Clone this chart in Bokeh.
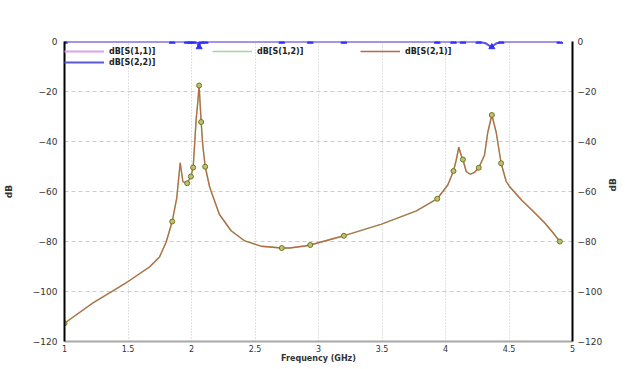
import math
from bokeh.plotting import figure
from bokeh.models import (Range1d, LinearAxis, FixedTicker, Legend, LegendItem)
from bokeh.embed import file_html
from bokeh.resources import INLINE

# ---- data ----
freq_s21 = [1.0, 1.223, 1.486, 1.669, 1.748, 1.80, 1.848, 1.884, 1.911, 1.932,
            1.95, 1.966, 1.995, 2.013, 2.037, 2.05, 2.06, 2.068, 2.076, 2.089,
            2.108, 2.142, 2.155, 2.22, 2.312, 2.417, 2.549, 2.711, 2.772, 2.89,
            2.935, 3.2, 3.494, 3.769, 3.935, 4.018, 4.063, 4.084, 4.105, 4.123,
            4.137, 4.163, 4.194, 4.228, 4.262, 4.307, 4.333, 4.365, 4.399, 4.438,
            4.478, 4.504, 4.6, 4.688, 4.78, 4.845, 4.9]
db_s21 = [-112.7, -104.6, -96.5, -90.2, -86.2, -80.3, -72.0, -62.6, -48.5, -56.0,
          -56.5, -56.7, -54.0, -50.4, -31.0, -24.0, -17.6, -25.0, -32.2, -41.6,
          -50.1, -58.0, -60.0, -69.2, -75.7, -79.7, -81.9, -82.6, -82.6, -81.8,
          -81.4, -77.7, -73.1, -67.8, -62.9, -57.4, -51.8, -47.5, -42.3, -45.5,
          -47.2, -52.0, -53.1, -52.4, -50.5, -45.5, -36.3, -29.4, -36.3, -48.7,
          -56.0, -58.0, -63.5, -67.8, -72.5, -76.4, -80.0]

freq_s22 = [1.0, 2.03, 2.045, 2.058, 2.07, 2.09, 4.27, 4.32, 4.36, 4.40, 4.44, 4.9]
db_s22 = [0.0, 0.0, -0.5, -2.2, -0.5, 0.0, 0.0, -0.8, -2.2, -0.8, 0.0, 0.0]

marker_freq = [1.0, 1.848, 1.966, 1.995, 2.013, 2.06, 2.076, 2.108, 2.711, 2.935,
               3.2, 3.935, 4.063, 4.137, 4.262, 4.365, 4.438, 4.9]
marker_s21 = [-112.7, -72.0, -56.7, -54.0, -50.4, -17.6, -32.2, -50.1, -82.6, -81.4,
              -77.7, -62.9, -51.8, -47.2, -50.5, -29.4, -48.7, -80.0]
marker_s22 = [0, 0, 0, 0, 0, -2.2, 0, 0, 0, 0, 0, 0, 0, 0, 0, -2.2, 0, 0]

series_names = ["dB[S(1,1)]", "dB[S(1,2)]", "dB[S(2,1)]", "dB[S(2,2)]"]
x_ticks = [1, 1.5, 2, 2.5, 3, 3.5, 4, 4.5, 5]
x_tick_labels = ["1", "1.5", "2", "2.5", "3", "3.5", "4", "4.5", "5"]
y_ticks = [-120, -100, -80, -60, -40, -20, 0]

FONT = "DejaVu Sans"
FRAME_H = 300

p = figure(frame_width=508, frame_height=FRAME_H, output_backend="svg",
           toolbar_location=None, x_range=Range1d(1, 5), y_range=Range1d(-120, 0),
           min_border_left=57, min_border_right=44, min_border_top=41,
           min_border_bottom=0, x_axis_label="Frequency (GHz)", y_axis_label="dB")
p.outline_line_color = None
p.background_fill_color = "white"

# grids
p.xgrid.ticker = FixedTicker(ticks=x_ticks)
p.ygrid.ticker = FixedTicker(ticks=y_ticks)
p.xgrid.grid_line_color = "#c4c4c4"
p.xgrid.grid_line_dash = "1 2"
p.ygrid.grid_line_color = "#cccccc"
p.ygrid.grid_line_dash = "4 3"

# axes
xa = p.xaxis[0]
xa.ticker = FixedTicker(ticks=x_ticks)
xa.major_label_overrides = {t: l for t, l in zip(x_ticks, x_tick_labels)}
xa.axis_line_color = "#a8a8a8"
xa.axis_line_width = 2
xa.major_tick_out = 0
xa.major_tick_in = 0
xa.minor_tick_out = 0
xa.minor_tick_in = 0
xa.major_label_standoff = 3
xa.axis_label_standoff = -1
xa.major_label_text_font = FONT
xa.major_label_text_font_size = "8px"
xa.major_label_text_color = "#333333"
xa.axis_label_text_font = FONT
xa.axis_label_text_font_size = "8px"
xa.axis_label_text_font_style = "bold"
xa.axis_label_text_color = "#333333"

ya = p.yaxis[0]
ra = LinearAxis(axis_label="dB")
p.add_layout(ra, "right")
for ax, lstand in ((ya, 16), (ra, 8)):
    ax.ticker = FixedTicker(ticks=y_ticks)
    ax.axis_line_color = "black"
    ax.axis_line_width = 2
    ax.major_tick_out = 0
    ax.major_tick_in = 0
    ax.minor_tick_out = 0
    ax.minor_tick_in = 0
    ax.major_label_standoff = 7
    ax.axis_label_standoff = lstand
    ax.major_label_text_font = FONT
    ax.major_label_text_font_size = "9px"
    ax.major_label_text_color = "#333333"
    ax.axis_label_text_font = FONT
    ax.axis_label_text_font_size = "9px"
    ax.axis_label_text_font_style = "bold"
    ax.axis_label_text_color = "#333333"
ra.major_label_standoff = 5
ra.axis_label_orientation = math.pi / 2

# curves (S11/S12 lie under S22/S21)
r11 = p.line(freq_s22, db_s22, line_color="#e0a0e8", line_width=2)
r12 = p.line(freq_s21, db_s21, line_color="#a0d8a0", line_width=1.5)
r21 = p.line(freq_s21, db_s21, line_color="#b86a45", line_width=1.3)
r22 = p.line(freq_s22, db_s22, line_color="#5a5ad8", line_width=2)

p.scatter(marker_freq, marker_s21, marker="circle", size=5,
          fill_color="#c0c070", line_color="#6b7a20", line_width=1)
p.scatter(marker_freq, marker_s22, marker="triangle", size=6,
          fill_color="#3030ff", line_color="#3030ff", line_width=1)

legend = Legend(items=[LegendItem(label=n, renderers=[r]) for n, r in
                       zip(series_names, [r11, r12, r21, r22])],
                location=(0, FRAME_H - 26), orientation="horizontal", ncols=3,
                padding=0, margin=0, spacing=1, border_line_color=None,
                background_fill_alpha=0, glyph_width=40, glyph_height=10,
                label_height=10, label_width=102, label_standoff=5,
                label_text_font=FONT, label_text_font_size="8px",
                label_text_font_style="bold", label_text_color="#222222")
p.add_layout(legend, "center")

open("out.html", "w").write(file_html(p, INLINE))
